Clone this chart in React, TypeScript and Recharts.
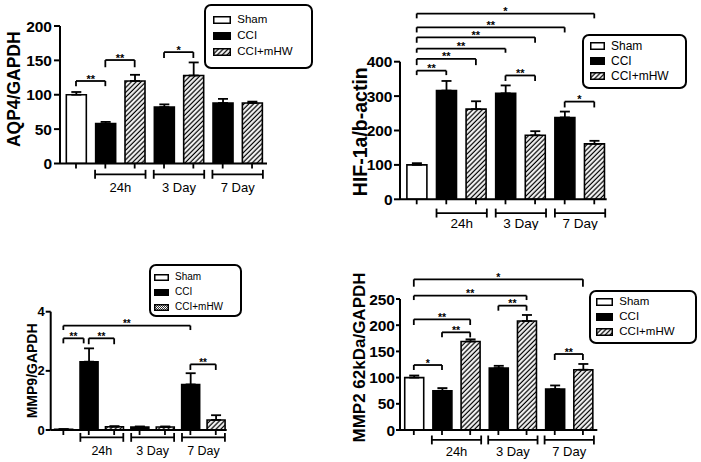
import React from 'react';
import { BarChart, Bar, XAxis, YAxis, Cell, ErrorBar, ReferenceLine } from 'recharts';

const FONT = '"Liberation Sans", Arial, Helvetica, sans-serif';

// ---------- shared categories ----------
const barPositions = [1, 2, 3, 4, 5, 6, 7];
const barGroups = ['Sham', 'CCI', 'CCI+mHW', 'CCI', 'CCI+mHW', 'CCI', 'CCI+mHW'];
const timeLabels = ['24h', '3 Day', '7 Day'];
const timeGroupStart = [2, 4, 6];
const legendItems = ['Sham', 'CCI', 'CCI+mHW'];

// ---------- panel A : AQP4 ----------
const aqp4Title = 'AQP4/GAPDH';
const aqp4Mean = [100, 58, 120, 82, 128, 88, 88];
const aqp4Sem = [4, 2.5, 9, 4, 19, 6, 2];
const aqp4Ticks = [0, 50, 100, 150, 200];
const aqp4Sig = [
  { from: 1, to: 2, y: 120, end: 112.5, text: '**' },
  { from: 2, to: 3, y: 150.5, end: 140, text: '**' },
  { from: 4, to: 5, y: 162, end: 153.5, text: '*' },
];

// ---------- panel B : HIF-1a ----------
const hifTitle = 'HIF-1a/b-actin';
const hifMean = [100, 316, 262, 308, 186, 238, 161];
const hifSem = [5, 28, 23, 23, 12, 17, 9];
const hifTicks = [0, 100, 200, 300, 400];
const hifSig = [
  { from: 1, to: 7, y: 540, end: 526, text: '*' },
  { from: 1, to: 6, y: 500, end: 485, text: '**' },
  { from: 1, to: 5, y: 471, end: 455, text: '**' },
  { from: 1, to: 4, y: 438, end: 426, text: '**' },
  { from: 1, to: 3, y: 408, end: 390, text: '**' },
  { from: 1, to: 2, y: 374, end: 361, text: '**' },
  { from: 4, to: 5, y: 360, end: 344, text: '**' },
  { from: 6, to: 7, y: 284, end: 267, text: '*' },
];

// ---------- panel C : MMP9 ----------
const mmp9Title = 'MMP9/GAPDH';
const mmp9Mean = [0.02, 2.31, 0.11, 0.1, 0.1, 1.54, 0.34];
const mmp9Sem = [0.01, 0.45, 0.02, 0.02, 0.02, 0.38, 0.16];
const mmp9Ticks = [0, 2, 4];
const mmp9Sig = [
  { from: 1, to: 6, y: 3.53, end: 3.38, text: '**' },
  { from: 1, to: 1.8, y: 3.1, end: 2.93, text: '**' },
  { from: 2, to: 3, y: 3.1, end: 2.9, text: '**' },
  { from: 6, to: 7, y: 2.22, end: 2.03, text: '**' },
];

// ---------- panel D : MMP2 ----------
const mmp2Title = 'MMP2 62kDa/GAPDH';
const mmp2Mean = [100, 75, 169, 118, 208, 78, 115];
const mmp2Sem = [4, 5, 4, 4.5, 11.5, 7, 11];
const mmp2Ticks = [0, 50, 100, 150, 200, 250];
const mmp2Sig = [
  { from: 1, to: 7, y: 287.5, end: 273.5, text: '*' },
  { from: 1, to: 5, y: 256.4, end: 248, text: '**' },
  { from: 4, to: 5, y: 237.3, end: 227.7, text: '**' },
  { from: 1, to: 3, y: 211.2, end: 200.4, text: '**' },
  { from: 2, to: 3, y: 186.4, end: 176.8, text: '**' },
  { from: 1, to: 2, y: 124, end: 114.5, text: '*' },
  { from: 6, to: 7, y: 145, end: 133.6, text: '**' },
];

type Sig = { from: number; to: number; y: number; end: number; text: string };

const fillFor = (g: string, hatchId = 'hatch') =>
  g === 'Sham' ? '#ffffff' : g === 'CCI' ? '#000000' : `url(#${hatchId})`;

type PanelCfg = {
  left: number; top: number; width: number; height: number;
  margin: { top: number; right: number; bottom: number; left: number };
  yAxisWidth: number; xAxisHeight: number;
  xDomain: [number, number]; yDomain: [number, number]; yTicks: number[];
  means: number[]; sems: number[]; sig: Sig[];
  title: string; titleX: number; titleDy: number; titleSize: number;
  tickFont: number; yTickLen: number; yTickMargin: number;
  barSize: number; groupY: number; groupCap: number; groupPadL: number; groupPadR: number;
  groupLabelOffset: number; groupFont: number; starFont: number; starOffset: number;
};

const panels: PanelCfg[] = [
  {
    left: 0, top: 0, width: 350, height: 230,
    margin: { top: 26, right: 83, bottom: 36.5, left: 0 },
    yAxisWidth: 60, xAxisHeight: 30, xDomain: [0.455, 7.51], yDomain: [0, 200], yTicks: aqp4Ticks,
    means: aqp4Mean, sems: aqp4Sem, sig: aqp4Sig,
    title: aqp4Title, titleX: 14, titleDy: -5.5, titleSize: 17.5,
    tickFont: 15.5, yTickLen: 6, yTickMargin: 2,
    barSize: 20, groupY: -15.7, groupCap: 6.5, groupPadL: 0.35, groupPadR: 0.37,
    groupLabelOffset: 8.8, groupFont: 13, starFont: 11, starOffset: -1.5,
  },
  {
    left: 350, top: 0, width: 351, height: 230,
    margin: { top: 61.7, right: 94.3, bottom: 10.7, left: 0 },
    yAxisWidth: 50, xAxisHeight: 20, xDomain: [0.436, 7.42], yDomain: [0, 400], yTicks: hifTicks,
    means: hifMean, sems: hifSem, sig: hifSig,
    title: hifTitle, titleX: 10, titleDy: 1.2, titleSize: 19.5,
    tickFont: 15.5, yTickLen: 6, yTickMargin: 1.5,
    barSize: 20, groupY: -40, groupCap: 13, groupPadL: 0.33, groupPadR: 0.37,
    groupLabelOffset: 5.5, groupFont: 13.5, starFont: 11, starOffset: -1.5,
  },
  {
    left: 0, top: 230, width: 350, height: 232,
    margin: { top: 81.7, right: 123.3, bottom: 12, left: 0 },
    yAxisWidth: 50.7, xAxisHeight: 20, xDomain: [0.502, 7.43], yDomain: [0, 4], yTicks: mmp9Ticks,
    means: mmp9Mean, sems: mmp9Sem, sig: mmp9Sig,
    title: mmp9Title, titleX: 32, titleDy: 0, titleSize: 14,
    tickFont: 13, yTickLen: 5, yTickMargin: 1,
    barSize: 18, groupY: -0.25, groupCap: 0.15, groupPadL: 0.33, groupPadR: 0.36,
    groupLabelOffset: 8.4, groupFont: 12.5, starFont: 10, starOffset: -1.5,
  },
  {
    left: 350, top: 230, width: 351, height: 232,
    margin: { top: 69, right: 103.7, bottom: 12, left: 0 },
    yAxisWidth: 50, xAxisHeight: 20, xDomain: [0.51, 7.51], yDomain: [0, 250], yTicks: mmp2Ticks,
    means: mmp2Mean, sems: mmp2Sem, sig: mmp2Sig,
    title: mmp2Title, titleX: 9, titleDy: -7, titleSize: 17,
    tickFont: 15.5, yTickLen: 4, yTickMargin: 1,
    barSize: 19, groupY: -19, groupCap: 8.5, groupPadL: 0.36, groupPadR: 0.39,
    groupLabelOffset: 6.4, groupFont: 13, starFont: 10.5, starOffset: -1.5,
  },
];

type LegendCfg = {
  x: number; y: number; w: number; h: number; rows: number[];
  sx: number; sw: number; sh: number; tx: number; fs: number; hatchId: string;
};

const legends: LegendCfg[] = [
  { x: 204, y: 4, w: 109, h: 65, rows: [16, 31.7, 47.7], sx: 9.3, sw: 18, sh: 8, tx: 33.3, fs: 11.5, hatchId: 'hatch' },
  { x: 581.7, y: 34.3, w: 105, h: 54.7, rows: [11.4, 26.4, 42], sx: 8.3, sw: 15, sh: 8, tx: 29.3, fs: 12, hatchId: 'hatch' },
  { x: 149.3, y: 264, w: 92.4, h: 52.7, rows: [13.3, 28.3, 43.3], sx: 4.7, sw: 15, sh: 7, tx: 25.7, fs: 10, hatchId: 'checker' },
  { x: 588.7, y: 290, w: 108, h: 54, rows: [11.7, 27.3, 41.7], sx: 7.3, sw: 17, sh: 8, tx: 30.6, fs: 11.5, hatchId: 'hatch' },
];

function Panel({ cfg }: { cfg: PanelCfg }) {
  const data = barPositions.map((p, i) => ({ pos: p, value: cfg.means[i], err: [0, cfg.sems[i]] }));
  const lp = { stroke: '#000', strokeWidth: 1.8, ifOverflow: 'visible' as const };
  const sigLines = cfg.sig.flatMap((s, i) => [
    <ReferenceLine
      key={`s${i}h`}
      segment={[{ x: s.from, y: s.y }, { x: s.to, y: s.y }]}
      {...lp}
      label={{ value: s.text, position: 'top', offset: cfg.starOffset, fontSize: cfg.starFont, fontWeight: 'bold', fill: '#000', fontFamily: FONT }}
    />,
    <ReferenceLine key={`s${i}l`} segment={[{ x: s.from, y: s.y }, { x: s.from, y: s.end }]} {...lp} />,
    <ReferenceLine key={`s${i}r`} segment={[{ x: s.to, y: s.y }, { x: s.to, y: s.end }]} {...lp} />,
  ]);
  const groupLines = timeGroupStart.flatMap((g, i) => {
    const x1 = g - cfg.groupPadL;
    const x2 = g + 1 + cfg.groupPadR;
    return [
      <ReferenceLine
        key={`g${i}h`}
        segment={[{ x: x1, y: cfg.groupY }, { x: x2, y: cfg.groupY }]}
        {...lp}
        label={{ value: timeLabels[i], position: 'bottom', offset: cfg.groupLabelOffset, fontSize: cfg.groupFont, fill: '#000', fontFamily: FONT }}
      />,
      <ReferenceLine key={`g${i}l`} segment={[{ x: x1, y: cfg.groupY - cfg.groupCap }, { x: x1, y: cfg.groupY + cfg.groupCap }]} {...lp} />,
      <ReferenceLine key={`g${i}r`} segment={[{ x: x2, y: cfg.groupY - cfg.groupCap }, { x: x2, y: cfg.groupY + cfg.groupCap }]} {...lp} />,
    ];
  });
  const renderTitle = (props: any) => {
    const vb = props.viewBox || {};
    const cx = (vb.x || 0) + cfg.titleX;
    const cy = (vb.y || 0) + (vb.height || 0) / 2 + cfg.titleDy;
    return (
      <text
        x={cx}
        y={cy}
        transform={`rotate(-90 ${cx} ${cy})`}
        textAnchor="middle"
        dominantBaseline="central"
        fontSize={cfg.titleSize}
        fontWeight="bold"
        fontFamily={FONT}
        fill="#000"
      >
        {cfg.title}
      </text>
    );
  };
  return (
    <div style={{ position: 'absolute', left: cfg.left, top: cfg.top }}>
      <BarChart width={cfg.width} height={cfg.height} data={data} margin={cfg.margin}>
        <XAxis
          type="number"
          dataKey="pos"
          domain={cfg.xDomain}
          allowDataOverflow
          ticks={barPositions}
          interval={0}
          tickFormatter={() => ''}
          tickSize={5}
          height={cfg.xAxisHeight}
          axisLine={{ stroke: '#000', strokeWidth: 2 }}
          tickLine={{ stroke: '#000', strokeWidth: 1.8 }}
        />
        <YAxis
          type="number"
          domain={cfg.yDomain}
          allowDataOverflow
          ticks={cfg.yTicks}
          interval={0}
          width={cfg.yAxisWidth}
          tickSize={cfg.yTickLen}
          tickMargin={cfg.yTickMargin}
          axisLine={{ stroke: '#000', strokeWidth: 2 }}
          tickLine={{ stroke: '#000', strokeWidth: 2 }}
          tick={{ fontSize: cfg.tickFont, fontWeight: 'bold', fill: '#000', fontFamily: FONT }}
          label={renderTitle}
        />
        <Bar dataKey="value" barSize={cfg.barSize} isAnimationActive={false}>
          {data.map((d, i) => (
            <Cell key={i} fill={fillFor(barGroups[i])} stroke="#000" strokeWidth={1.6} />
          ))}
          <ErrorBar dataKey="err" direction="y" width={5} stroke="#000" strokeWidth={1.8} isAnimationActive={false} />
        </Bar>
        {sigLines}
        {groupLines}
      </BarChart>
    </div>
  );
}

function LegendBox({ cfg }: { cfg: LegendCfg }) {
  return (
    <div
      style={{
        position: 'absolute', left: cfg.x, top: cfg.y, width: cfg.w, height: cfg.h,
        border: '2px solid #000', borderRadius: 7, boxSizing: 'border-box', background: '#fff',
        fontFamily: FONT, color: '#000',
      }}
    >
      {legendItems.map((name, i) => (
        <React.Fragment key={name}>
          <svg
            width={cfg.sw}
            height={cfg.sh}
            style={{ position: 'absolute', left: cfg.sx - 2, top: cfg.rows[i] - 2 - cfg.sh / 2 }}
          >
            <rect x={0.75} y={0.75} width={cfg.sw - 1.5} height={cfg.sh - 1.5} fill={fillFor(name, cfg.hatchId)} stroke="#000" strokeWidth={1.5} />
          </svg>
          <span
            style={{
              position: 'absolute', left: cfg.tx - 2, top: cfg.rows[i] - 2, transform: 'translateY(-50%)',
              fontSize: cfg.fs, lineHeight: 1, whiteSpace: 'nowrap',
            }}
          >
            {name}
          </span>
        </React.Fragment>
      ))}
    </div>
  );
}

export default function App() {
  return (
    <div style={{ position: 'absolute', left: 0, top: 0, width: 701, height: 462, background: '#fff', fontFamily: FONT, overflow: 'hidden' }}>
      <svg width={0} height={0} style={{ position: 'absolute' }}>
        <defs>
          <pattern id="hatch" width={3.4} height={3.4} patternUnits="userSpaceOnUse" patternTransform="rotate(45)">
            <rect width={3.4} height={3.4} fill="#fff" />
            <line x1={1.2} y1={-1} x2={1.2} y2={5} stroke="#000" strokeWidth={1.3} />
          </pattern>
          <pattern id="checker" width={2} height={2} patternUnits="userSpaceOnUse">
            <rect width={2} height={2} fill="#fff" />
            <rect width={1} height={1} fill="#333" />
            <rect x={1} y={1} width={1} height={1} fill="#333" />
          </pattern>
        </defs>
      </svg>
      {panels.map((p, i) => (
        <Panel key={i} cfg={p} />
      ))}
      {legends.map((l, i) => (
        <LegendBox key={i} cfg={l} />
      ))}
    </div>
  );
}
